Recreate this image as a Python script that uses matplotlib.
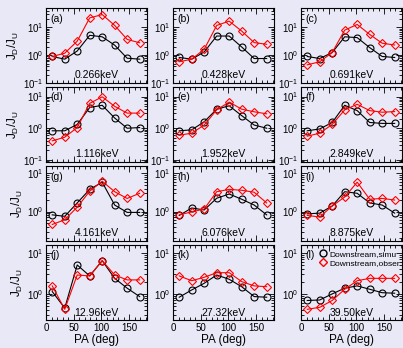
import matplotlib
matplotlib.use("Agg")
import matplotlib.pyplot as plt
import numpy as np
from matplotlib.ticker import MultipleLocator, LogLocator, NullFormatter
from matplotlib.lines import Line2D

# pitch angle bin centres (deg)
pa = [11.25, 33.75, 56.25, 78.75, 101.25, 123.75, 146.25, 168.75]

energies = ["0.266keV", "0.428keV", "0.691keV",
            "1.116keV", "1.952keV", "2.849keV",
            "4.161keV", "6.076keV", "8.875keV",
            "12.96keV", "27.32keV", "39.50keV"]
letters = ["(a)", "(b)", "(c)", "(d)", "(e)", "(f)",
           "(g)", "(h)", "(i)", "(j)", "(k)", "(l)"]

# downstream, simulation (black circles)
simu = [
    [0.9, 0.72, 1.42, 5.2, 4.6, 2.3, 0.78, 0.72],
    [0.83, 0.72, 1.31, 4.9, 4.9, 1.98, 0.76, 0.76],
    [0.9, 0.76, 1.25, 4.6, 4.3, 1.88, 0.9, 0.83],
    [0.83, 0.83, 1.32, 4.5, 5.3, 2.1, 1.0, 1.05],
    [0.83, 0.89, 1.6, 4.0, 5.1, 2.5, 1.26, 1.0],
    [0.83, 0.95, 1.52, 5.3, 3.6, 1.52, 1.42, 1.42],
    [0.82, 0.75, 1.68, 3.8, 5.85, 1.48, 0.95, 0.95],
    [0.79, 1.24, 1.1, 2.23, 2.87, 2.1, 1.48, 0.82],
    [0.87, 0.91, 1.4, 3.3, 3.0, 1.68, 1.48, 0.91],
    [1.14, 0.45, 5.1, 2.75, 6.5, 2.4, 1.38, 0.86],
    [0.83, 1.25, 1.82, 2.9, 2.28, 1.5, 0.86, 0.83],
    [0.69, 0.71, 1.0, 1.38, 1.57, 1.3, 1.07, 1.04],
]

# downstream, observation (red diamonds)
obser = [
    [0.9, 1.18, 3.2, 22.0, 29.0, 11.8, 3.7, 2.8],
    [0.58, 0.72, 1.64, 11.8, 16.8, 7.4, 2.84, 2.47],
    [0.45, 0.58, 1.25, 8.0, 12.8, 5.6, 2.7, 2.33],
    [0.4, 0.52, 1.05, 6.1, 9.8, 4.9, 3.0, 3.0],
    [0.6, 0.7, 1.26, 3.8, 6.7, 4.0, 3.3, 2.85],
    [0.56, 0.7, 1.32, 3.8, 5.7, 3.6, 3.2, 3.35],
    [0.46, 0.61, 1.3, 3.4, 6.2, 3.3, 2.2, 3.0],
    [0.82, 0.98, 1.17, 3.3, 3.8, 3.6, 3.2, 1.68],
    [0.79, 0.72, 1.4, 2.4, 5.85, 2.1, 2.2, 2.0],
    [1.57, 0.42, 2.9, 2.75, 6.5, 2.9, 2.2, 2.2],
    [2.75, 2.1, 2.55, 3.3, 3.3, 2.0, 1.57, 1.5],
    [0.42, 0.47, 0.69, 1.3, 2.1, 2.4, 2.4, 2.4],
]

row_ylims = [(0.1, 50), (0.086, 20), (0.17, 15.5), (0.23, 15.7)]

plt.rcParams["font.family"] = "Liberation Sans"
plt.rcParams["mathtext.fontset"] = "custom"
plt.rcParams["mathtext.rm"] = "Liberation Sans"
plt.rcParams["mathtext.it"] = "Liberation Sans:italic"
plt.rcParams["mathtext.bf"] = "Liberation Sans:bold"

bg = "#e8e8f6"
W, H = 403, 348
fig = plt.figure(figsize=(W / 100, H / 100), dpi=100, facecolor=bg)

col_left = [46, 173, 301]
row_top = [8, 87, 166, 245]
pw, ph = 101, 75

for k in range(12):
    r, c = divmod(k, 3)
    ax = fig.add_axes([col_left[c] / W, 1 - (row_top[r] + ph) / H, pw / W, ph / H])
    ax.set_facecolor(bg)
    ax.plot(pa, simu[k], color="black", lw=0.8, marker="o", ms=5,
            mfc="none", mec="black", mew=0.8)
    ax.plot(pa, obser[k], color="red", lw=0.8, marker="D", ms=4.5,
            mfc="none", mec="red", mew=0.8)
    ax.set_yscale("log")
    ax.set_ylim(*row_ylims[r])
    ax.set_xlim(0, 182)
    ax.xaxis.set_major_locator(MultipleLocator(50))
    ax.xaxis.set_minor_locator(MultipleLocator(10))
    ax.yaxis.set_major_locator(LogLocator(base=10, numticks=10))
    ax.yaxis.set_minor_locator(LogLocator(base=10, subs=np.arange(2, 10), numticks=10))
    ax.yaxis.set_minor_formatter(NullFormatter())
    ax.tick_params(which="both", direction="in", top=True, right=True,
                   labelsize=7, width=0.6, pad=2)
    ax.tick_params(which="major", length=4)
    ax.tick_params(which="minor", length=2)
    for s in ax.spines.values():
        s.set_linewidth(0.8)
    if r < 3:
        ax.set_xticklabels([])
    else:
        ax.set_xlabel("PA (deg)", fontsize=8.5, labelpad=1)
    if c == 0:
        ax.set_ylabel(r"J$_\mathrm{D}$/J$_\mathrm{U}$", fontsize=8.5, labelpad=1)
    ax.text(0.04, 0.86, letters[k], transform=ax.transAxes, fontsize=7.5, va="center")
    ax.text(0.5, 0.06, energies[k], transform=ax.transAxes, fontsize=7.5, ha="center")
    if k == 11:
        handles = [Line2D([], [], ls="none", marker="o", ms=5, mfc="none", mec="black"),
                   Line2D([], [], ls="none", marker="D", ms=4.5, mfc="none", mec="red")]
        ax.legend(handles, ["Downstream,simu", "Downstream,obser"], loc="upper left",
                  bbox_to_anchor=(0.17, 0.94), frameon=False, fontsize=6,
                  handletextpad=0.3, handlelength=1.0, borderaxespad=0.0,
                  borderpad=0.1, labelspacing=0.1)

fig.savefig("out.png", dpi=100, facecolor=bg)
